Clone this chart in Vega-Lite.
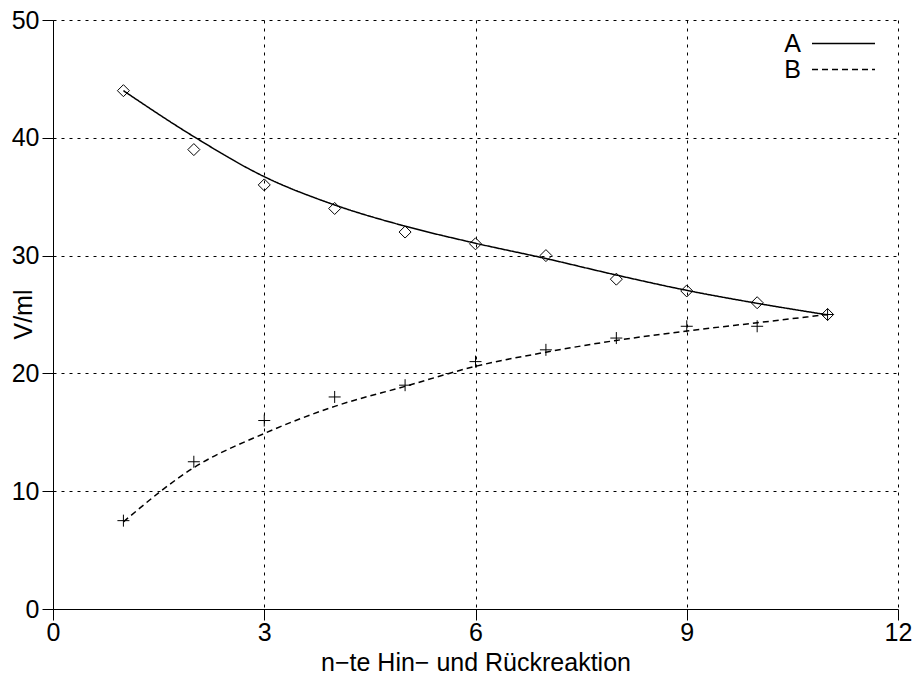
{
  "$schema": "https://vega.github.io/schema/vega-lite/v6.json",
  "autosize": "none",
  "padding": {"left": 53, "top": 20, "right": 19, "bottom": 65},
  "width": 845,
  "height": 589,
  "background": "white",
  "config": {
    "view": {"stroke": null},
    "font": "Liberation Sans",
    "axis": {
      "labelFont": "Liberation Sans", "titleFont": "Liberation Sans",
      "labelFontSize": 25, "titleFontSize": 25, "titleFontWeight": "normal",
      "labelColor": "#000", "titleColor": "#000",
      "domainColor": "#000", "domainWidth": 1,
      "tickColor": "#000", "tickWidth": 1, "tickSize": 11,
      "gridColor": "#000", "gridOpacity": 1, "gridWidth": 1, "gridDash": [3, 5]
    },
    "legend": {"labelFont": "Liberation Sans"}
  },
  "datasets": {
    "pts": [
      {"n": 1, "set": "A", "V": 44}, {"n": 2, "set": "A", "V": 39}, {"n": 3, "set": "A", "V": 36},
      {"n": 4, "set": "A", "V": 34}, {"n": 5, "set": "A", "V": 32}, {"n": 6, "set": "A", "V": 31},
      {"n": 7, "set": "A", "V": 30}, {"n": 8, "set": "A", "V": 28}, {"n": 9, "set": "A", "V": 27},
      {"n": 10, "set": "A", "V": 26}, {"n": 11, "set": "A", "V": 25},
      {"n": 1, "set": "B", "V": 7.5}, {"n": 2, "set": "B", "V": 12.5}, {"n": 3, "set": "B", "V": 16},
      {"n": 4, "set": "B", "V": 18}, {"n": 5, "set": "B", "V": 19}, {"n": 6, "set": "B", "V": 21},
      {"n": 7, "set": "B", "V": 22}, {"n": 8, "set": "B", "V": 23}, {"n": 9, "set": "B", "V": 24},
      {"n": 10, "set": "B", "V": 24}, {"n": 11, "set": "B", "V": 25}
    ],
    "fit": [
      {"n": 1, "series": "A", "V": 44.0}, {"n": 2, "series": "A", "V": 40.1}, {"n": 3, "series": "A", "V": 36.7},
      {"n": 4, "series": "A", "V": 34.3}, {"n": 5, "series": "A", "V": 32.5}, {"n": 6, "series": "A", "V": 31.05},
      {"n": 7, "series": "A", "V": 29.75}, {"n": 8, "series": "A", "V": 28.35}, {"n": 9, "series": "A", "V": 27.05},
      {"n": 10, "series": "A", "V": 25.95}, {"n": 11, "series": "A", "V": 24.97},
      {"n": 1, "series": "B", "V": 7.4}, {"n": 2, "series": "B", "V": 12.0}, {"n": 3, "series": "B", "V": 14.9},
      {"n": 4, "series": "B", "V": 17.2}, {"n": 5, "series": "B", "V": 18.9}, {"n": 6, "series": "B", "V": 20.6},
      {"n": 7, "series": "B", "V": 21.8}, {"n": 8, "series": "B", "V": 22.8}, {"n": 9, "series": "B", "V": 23.6},
      {"n": 10, "series": "B", "V": 24.3}, {"n": 11, "series": "B", "V": 25.0}
    ]
  },
  "encoding": {
    "x": {
      "field": "n", "type": "quantitative",
      "scale": {"domain": [0, 12], "nice": false, "zero": false},
      "axis": {
        "values": [0, 3, 6, 9, 12], "title": "n−te Hin− und Rückreaktion",
        "labelBaseline": "alphabetic", "labelPadding": 20, "labelFlush": false,
        "titleBaseline": "alphabetic", "titleY": 61
      }
    },
    "y": {
      "field": "V", "type": "quantitative",
      "scale": {"domain": [0, 50], "nice": false},
      "axis": {
        "values": [0, 10, 20, 30, 40, 50], "title": "V/ml",
        "labelPadding": 3, "labelFlush": false,
        "titleX": -30, "titleY": 294, "titleAngle": -90,
        "titleAlign": "center", "titleBaseline": "middle"
      }
    }
  },
  "layer": [
    {
      "data": {"name": "fit"},
      "mark": {"type": "line", "color": "#000", "strokeWidth": 1.5, "interpolate": "monotone"},
      "encoding": {
        "strokeDash": {
          "field": "series", "type": "nominal",
          "scale": {"domain": ["A", "B"], "range": [[1, 0], [6, 4]]},
          "legend": {
            "title": null, "orient": "none", "legendX": 778, "legendY": 11,
            "symbolType": "M-3,0H3", "symbolSize": 441, "symbolStrokeWidth": 1.5,
            "symbolStrokeColor": "#000", "symbolFillColor": "transparent",
            "labelFontSize": 25, "labelColor": "#000",
            "labelAlign": "right", "labelOffset": -55, "symbolOffset": 0,
            "rowPadding": 0, "padding": 0
          }
        }
      }
    },
    {
      "data": {"name": "pts"},
      "transform": [{"filter": "datum.set === 'A'"}],
      "mark": {"type": "point", "shape": "M0,-1L1,0L0,1L-1,0Z", "filled": false, "color": "#000", "strokeWidth": 1, "size": 144, "opacity": 1}
    },
    {
      "data": {"name": "pts"},
      "transform": [{"filter": "datum.set === 'B'"}],
      "mark": {"type": "point", "shape": "M-1,0H1M0,-1V1", "filled": false, "color": "#000", "strokeWidth": 1, "size": 144, "opacity": 1}
    }
  ]
}
